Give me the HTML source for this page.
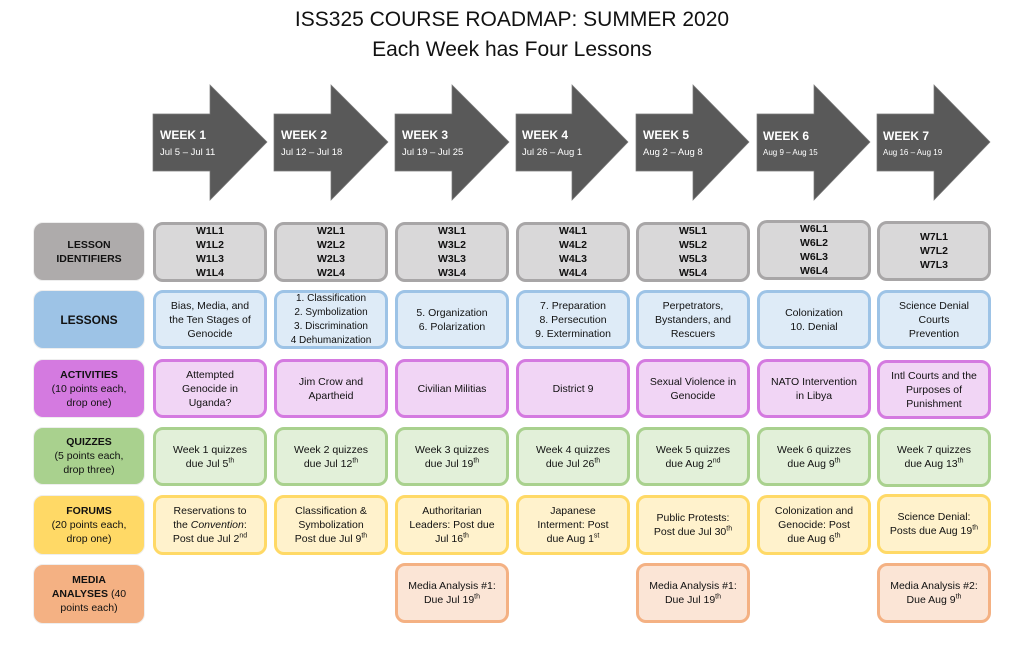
<!DOCTYPE html>
<html><head><meta charset="utf-8"><style>
body{margin:0;width:1024px;height:648px;background:#fff;position:relative;overflow:hidden;font-family:"Liberation Sans",Arial,sans-serif;color:#111}
.t{position:absolute;left:0;width:1024px;text-align:center;font-size:21px;line-height:28px}
.b{position:absolute;box-sizing:border-box;border-radius:10px;display:flex;align-items:center;justify-content:center;text-align:center;font-size:10.5px;line-height:14px;border:3px solid}
.b>div{width:100%}
.l{border:1px solid #eee;font-weight:bold;font-size:10.5px}
.l span{font-weight:normal}
sup{font-size:7px;line-height:0;vertical-align:super}
.id{background:#d9d8d9;border-color:#a8a6a7;font-weight:bold;font-size:10.5px}
.le{background:#deebf7;border-color:#9dc3e6}
.ac{background:#f1d5f5;border-color:#d47ae0}
.qu{background:#e2f0d9;border-color:#a9d18e}
.fo{background:#fff2cc;border-color:#ffd966}
.me{background:#fbe5d6;border-color:#f4b183}
.wk{position:absolute;color:#fff;font-size:12px;font-weight:bold}
.dt{position:absolute;color:#fff;font-size:9.5px}
</style></head><body>
<div class="t" style="top:6px">ISS325 COURSE ROADMAP: SUMMER 2020</div>
<div class="t" style="top:36px">Each Week has Four Lessons</div>

<svg width="1024" height="210" style="position:absolute;left:0;top:0">
<g fill="#595959" stroke="#7a7a7a" stroke-width="0.7">
<polygon points="153,114 210,114 210,85 267,142 210,200 210,171 153,171"/>
<polygon points="274,114 331,114 331,85 388,142 331,200 331,171 274,171"/>
<polygon points="395,114 452,114 452,85 509,142 452,200 452,171 395,171"/>
<polygon points="516,114 572,114 572,85 628,142 572,200 572,171 516,171"/>
<polygon points="636,114 693,114 693,85 749,142 693,200 693,171 636,171"/>
<polygon points="757,114 814,114 814,85 870,142 814,200 814,171 757,171"/>
<polygon points="877,114 934,114 934,85 990,142 934,200 934,171 877,171"/>
</g></svg>
<div class="wk" style="left:160px;top:128px">WEEK 1</div><div class="dt" style="left:160px;top:147px">Jul 5 – Jul 11</div>
<div class="wk" style="left:281px;top:128px">WEEK 2</div><div class="dt" style="left:281px;top:147px">Jul 12 – Jul 18</div>
<div class="wk" style="left:402px;top:128px">WEEK 3</div><div class="dt" style="left:402px;top:147px">Jul 19 – Jul 25</div>
<div class="wk" style="left:522px;top:128px">WEEK 4</div><div class="dt" style="left:522px;top:147px">Jul 26 – Aug 1</div>
<div class="wk" style="left:643px;top:128px">WEEK 5</div><div class="dt" style="left:643px;top:147px">Aug 2 – Aug 8</div>
<div class="wk" style="left:763px;top:129px">WEEK 6</div><div class="dt" style="left:763px;top:148px;font-size:8px">Aug 9 – Aug 15</div>
<div class="wk" style="left:883px;top:129px">WEEK 7</div><div class="dt" style="left:883px;top:148px;font-size:8px">Aug 16 – Aug 19</div>

<div class="b l" style="left:33px;top:222px;width:112px;height:59px;background:#aeabab"><div>LESSON<br>IDENTIFIERS</div></div>
<div class="b l" style="left:33px;top:290px;width:112px;height:59px;background:#9dc3e6;font-size:12px"><div>LESSONS</div></div>
<div class="b l" style="left:33px;top:359px;width:112px;height:59px;background:#d47ae0"><div>ACTIVITIES<br><span>(10 points each,<br>drop one)</span></div></div>
<div class="b l" style="left:33px;top:427px;width:112px;height:58px;background:#a9d18e"><div>QUIZZES<br><span>(5 points each,<br>drop three)</span></div></div>
<div class="b l" style="left:33px;top:495px;width:112px;height:60px;background:#ffd966"><div>FORUMS<br><span>(20 points each,<br>drop one)</span></div></div>
<div class="b l" style="left:33px;top:564px;width:112px;height:60px;background:#f4b183"><div>MEDIA<br>ANALYSES <span>(40<br>points each)</span></div></div>

<div class="b id" style="left:153px;top:222px;width:114px;height:60px"><div>W1L1<br>W1L2<br>W1L3<br>W1L4</div></div>
<div class="b id" style="left:274px;top:222px;width:114px;height:60px"><div>W2L1<br>W2L2<br>W2L3<br>W2L4</div></div>
<div class="b id" style="left:395px;top:222px;width:114px;height:60px"><div>W3L1<br>W3L2<br>W3L3<br>W3L4</div></div>
<div class="b id" style="left:516px;top:222px;width:114px;height:60px"><div>W4L1<br>W4L2<br>W4L3<br>W4L4</div></div>
<div class="b id" style="left:636px;top:222px;width:114px;height:60px"><div>W5L1<br>W5L2<br>W5L3<br>W5L4</div></div>
<div class="b id" style="left:757px;top:220px;width:114px;height:60px"><div>W6L1<br>W6L2<br>W6L3<br>W6L4</div></div>
<div class="b id" style="left:877px;top:221px;width:114px;height:60px"><div>W7L1<br>W7L2<br>W7L3</div></div>

<div class="b le" style="left:153px;top:290px;width:114px;height:59px"><div>Bias, Media, and<br>the Ten Stages of<br>Genocide</div></div>
<div class="b le" style="left:274px;top:290px;width:114px;height:59px;font-size:10px"><div>1. Classification<br>2. Symbolization<br>3. Discrimination<br>4 Dehumanization</div></div>
<div class="b le" style="left:395px;top:290px;width:114px;height:59px"><div>5. Organization<br>6. Polarization</div></div>
<div class="b le" style="left:516px;top:290px;width:114px;height:59px"><div>7. Preparation<br>8. Persecution<br>9. Extermination</div></div>
<div class="b le" style="left:636px;top:290px;width:114px;height:59px"><div>Perpetrators,<br>Bystanders, and<br>Rescuers</div></div>
<div class="b le" style="left:757px;top:290px;width:114px;height:59px"><div>Colonization<br>10. Denial</div></div>
<div class="b le" style="left:877px;top:290px;width:114px;height:59px"><div>Science Denial<br>Courts<br>Prevention</div></div>

<div class="b ac" style="left:153px;top:359px;width:114px;height:59px"><div>Attempted<br>Genocide in<br>Uganda?</div></div>
<div class="b ac" style="left:274px;top:359px;width:114px;height:59px"><div>Jim Crow and<br>Apartheid</div></div>
<div class="b ac" style="left:395px;top:359px;width:114px;height:59px"><div>Civilian Militias</div></div>
<div class="b ac" style="left:516px;top:359px;width:114px;height:59px"><div>District 9</div></div>
<div class="b ac" style="left:636px;top:359px;width:114px;height:59px"><div>Sexual Violence in<br>Genocide</div></div>
<div class="b ac" style="left:757px;top:359px;width:114px;height:59px"><div>NATO Intervention<br>in Libya</div></div>
<div class="b ac" style="left:877px;top:360px;width:114px;height:59px"><div>Intl Courts and the<br>Purposes of<br>Punishment</div></div>

<div class="b qu" style="left:153px;top:427px;width:114px;height:59px"><div>Week 1 quizzes<br>due Jul 5<sup>th</sup></div></div>
<div class="b qu" style="left:274px;top:427px;width:114px;height:59px"><div>Week 2 quizzes<br>due Jul 12<sup>th</sup></div></div>
<div class="b qu" style="left:395px;top:427px;width:114px;height:59px"><div>Week 3 quizzes<br>due Jul 19<sup>th</sup></div></div>
<div class="b qu" style="left:516px;top:427px;width:114px;height:59px"><div>Week 4 quizzes<br>due Jul 26<sup>th</sup></div></div>
<div class="b qu" style="left:636px;top:427px;width:114px;height:59px"><div>Week 5 quizzes<br>due Aug 2<sup>nd</sup></div></div>
<div class="b qu" style="left:757px;top:427px;width:114px;height:59px"><div>Week 6 quizzes<br>due Aug 9<sup>th</sup></div></div>
<div class="b qu" style="left:877px;top:427px;width:114px;height:60px"><div>Week 7 quizzes<br>due Aug 13<sup>th</sup></div></div>

<div class="b fo" style="left:153px;top:495px;width:114px;height:60px"><div>Reservations to<br>the <i>Convention</i>:<br>Post due Jul 2<sup>nd</sup></div></div>
<div class="b fo" style="left:274px;top:495px;width:114px;height:60px"><div>Classification &amp;<br>Symbolization<br>Post due Jul 9<sup>th</sup></div></div>
<div class="b fo" style="left:395px;top:495px;width:114px;height:60px"><div>Authoritarian<br>Leaders: Post due<br>Jul 16<sup>th</sup></div></div>
<div class="b fo" style="left:516px;top:495px;width:114px;height:60px"><div>Japanese<br>Interment: Post<br>due Aug 1<sup>st</sup></div></div>
<div class="b fo" style="left:636px;top:495px;width:114px;height:60px"><div>Public Protests:<br>Post due Jul 30<sup>th</sup></div></div>
<div class="b fo" style="left:757px;top:495px;width:114px;height:60px"><div>Colonization and<br>Genocide: Post<br>due Aug 6<sup>th</sup></div></div>
<div class="b fo" style="left:877px;top:494px;width:114px;height:60px"><div>Science Denial:<br>Posts due Aug 19<sup>th</sup></div></div>

<div class="b me" style="left:395px;top:563px;width:114px;height:60px"><div>Media Analysis #1:<br>Due Jul 19<sup>th</sup></div></div>
<div class="b me" style="left:636px;top:563px;width:114px;height:60px"><div>Media Analysis #1:<br>Due Jul 19<sup>th</sup></div></div>
<div class="b me" style="left:877px;top:563px;width:114px;height:60px"><div>Media Analysis #2:<br>Due Aug 9<sup>th</sup></div></div>
</body></html>
